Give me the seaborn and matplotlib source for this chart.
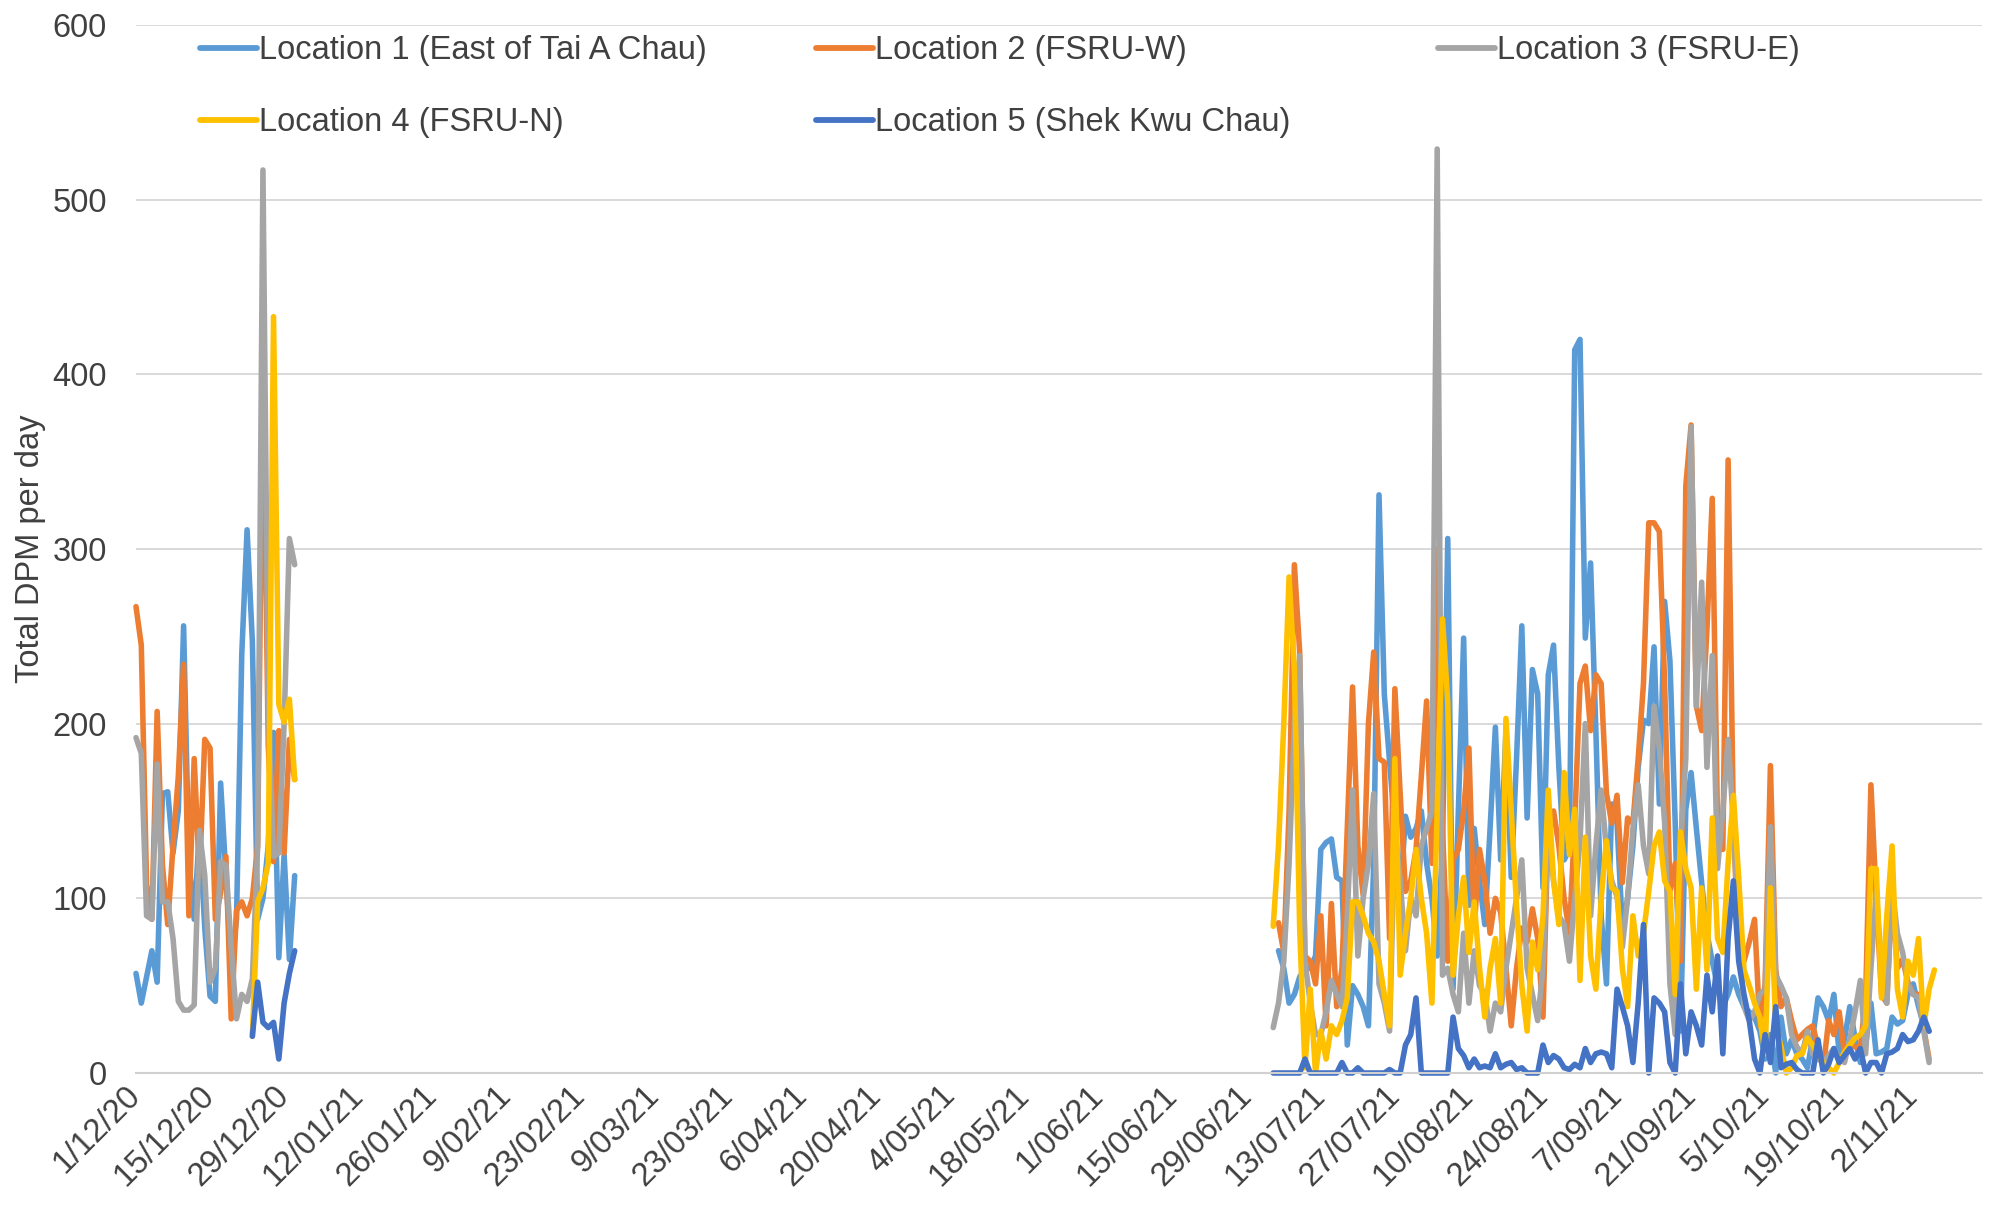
import numpy as np
import pandas as pd
import matplotlib
matplotlib.use("Agg")
import matplotlib.pyplot as plt
import matplotlib.dates as mdates
import seaborn as sns

# ---------------- data ----------------
locations = [
    "Location 1 (East of Tai A Chau)",
    "Location 2 (FSRU-W)",
    "Location 3 (FSRU-E)",
    "Location 4 (FSRU-N)",
    "Location 5 (Shek Kwu Chau)",
]
colors = ["#5B9BD5", "#ED7D31", "#A5A5A5", "#FFC000", "#4472C4"]

seg1_start = "2020-12-01"   # daily values, 1 Dec - 31 Dec 2020
seg2_start = "2021-07-04"   # daily values, 4 Jul - 5 Nov 2021

N = None
loc1_seg1 = [57, 40, 55, 70, 52, 160, 161, 126, 150, 256, 121, 88, 139, 83, 44, 41,
             166, 113, 62, 88, 240, 311, 247, 88, 100, 130, 195, 66, 125, 65, 113]
loc2_seg1 = [267, 245, 108, 88, 207, 119, 85, 130, 170, 234, 90, 180, 113, 191, 186, 88,
             103, 124, 31, 93, 98, 90, 100, 130, 405, 188, 121, 196, 126, 191, 168]
loc3_seg1 = [192, 183, 90, 88, 177, 98, 98, 77, 41, 36, 36, 39, 139, 113, 52, 60,
             121, 119, 72, 31, 45, 41, 54, 130, 517, 210, 124, 126, 200, 306, 291]
loc4_seg1 = [N] * 22 + [21, 98, 106, 120, 433, 211, 201, 214, 168]
loc5_seg1 = [N] * 22 + [21, 52, 29, 26, 29, 8, 40, 57, 70]

loc1_seg2 = [N, 70, 60, 40, 45, 55, 60, 60, 67, 128,
             132, 134, 112, 110, 16, 50, 45, 38, 27, 120,
             331, 217, 178, 140, 100, 147, 135, 140, 150, 120,
             100, 67, 130, 306, 48, 150, 249, 96, 140, 110,
             85, 140, 198, 122, 196, 112, 180, 256, 146, 231,
             217, 106, 228, 245, 175, 122, 128, 414, 420, 249,
             292, 196, 90, 51, 154, 143, 83, 100, 130, 175,
             202, 200, 244, 154, 270, 236, 143, 24, 151, 172,
             140, 109, 80, 64, 50, 38, 45, 55, 45, 38,
             35, 32, 24, 8, 22, 0, 32, 11, 19, 11,
             8, 3, 20, 43, 38, 30, 45, 11, 19, 38,
             20, 6, 16, 40, 11, 12, 14, 32, 28, 30,
             45, 51, 38, 27, 24, N]
loc2_seg2 = [N, 86, 69, 150, 291, 241, 67, 64, 51, 90,
             27, 97, 38, 60, 140, 221, 130, 102, 200, 241,
             180, 178, 77, 220, 160, 104, 110, 128, 170, 213,
             120, 300, 140, 64, 122, 128, 150, 186, 83, 128,
             110, 80, 100, 92, 60, 27, 60, 83, 75, 94,
             77, 32, 143, 150, 130, 100, 80, 143, 223, 233,
             196, 228, 223, 160, 143, 159, 109, 146, 143, 180,
             223, 315, 315, 310, 223, 104, 120, 64, 336, 371,
             210, 196, 254, 329, 143, 128, 351, 143, 69, 64,
             75, 88, 27, 51, 176, 59, 38, 43, 30, 19,
             22, 25, 27, 15, 3, 30, 22, 35, 11, 16,
             15, 14, 43, 165, 100, 45, 40, 105, 60, 65,
             52, 45, 45, 25, 8, N]
loc3_seg2 = [26, 40, 64, 120, 200, 239, 64, 40, 22, 22,
             35, 53, 45, 38, 90, 162, 67, 100, 120, 160,
             51, 40, 24, 140, 110, 70, 100, 90, 130, 140,
             150, 529, 56, 60, 45, 35, 80, 40, 70, 50,
             45, 24, 40, 35, 60, 80, 100, 122, 60, 45,
             30, 60, 140, 110, 90, 85, 64, 100, 133, 200,
             90, 130, 162, 128, 110, 101, 72, 100, 140, 165,
             130, 114, 210, 186, 143, 51, 22, 130, 180, 370,
             210, 281, 175, 239, 117, 150, 191, 143, 80, 38,
             30, 35, 45, 48, 141, 56, 50, 43, 22, 15,
             11, 24, 11, 8, 6, 10, 14, 8, 6, 19,
             35, 53, 11, 60, 104, 60, 40, 106, 80, 69,
             51, 45, 43, 24, 6, N]
loc4_seg2 = [84, 130, 200, 284, 230, 83, 3, 48, 0, 24,
             8, 27, 22, 30, 43, 98, 98, 90, 80, 75,
             64, 45, 27, 180, 56, 80, 100, 128, 100, 80,
             40, 150, 260, 212, 56, 90, 112, 69, 98, 60,
             32, 60, 77, 40, 203, 150, 96, 50, 24, 75,
             59, 90, 162, 110, 85, 172, 125, 151, 53, 135,
             67, 48, 100, 133, 106, 104, 60, 38, 90, 67,
             80, 104, 130, 138, 110, 104, 45, 138, 117, 106,
             48, 106, 59, 146, 77, 69, 120, 159, 112, 59,
             50, 40, 32, 11, 106, 27, 15, 0, 3, 10,
             11, 20, 16, 10, 6, 3, 0, 6, 12, 16,
             20, 22, 27, 117, 117, 43, 90, 130, 48, 32,
             64, 56, 77, 27, 48, 59]
loc5_seg2 = [0, 0, 0, 0, 0, 0, 8, 0, 0, 0,
             0, 0, 0, 6, 0, 0, 3, 0, 0, 0,
             0, 0, 2, 0, 0, 16, 22, 43, 0, 0,
             0, 0, 0, 0, 32, 14, 10, 3, 8, 3,
             4, 3, 11, 3, 5, 6, 2, 3, 0, 0,
             0, 16, 6, 10, 8, 3, 2, 5, 3, 14,
             6, 11, 12, 11, 3, 48, 38, 27, 6, 40,
             85, 0, 43, 40, 35, 6, 0, 51, 11, 35,
             27, 16, 56, 35, 67, 11, 77, 110, 64, 45,
             30, 8, 0, 22, 6, 38, 3, 5, 6, 2,
             0, 0, 0, 19, 0, 5, 14, 6, 10, 14,
             8, 14, 0, 6, 6, 0, 11, 12, 14, 22,
             18, 19, 24, 32, 24, N]

seg1_values = [loc1_seg1, loc2_seg1, loc3_seg1, loc4_seg1, loc5_seg1]
seg2_values = [loc1_seg2, loc2_seg2, loc3_seg2, loc4_seg2, loc5_seg2]

tick_labels = ["1/12/20", "15/12/20", "29/12/20", "12/01/21", "26/01/21", "9/02/21",
               "23/02/21", "9/03/21", "23/03/21", "6/04/21", "20/04/21", "4/05/21",
               "18/05/21", "1/06/21", "15/06/21", "29/06/21", "13/07/21", "27/07/21",
               "10/08/21", "24/08/21", "7/09/21", "21/09/21", "5/10/21", "19/10/21",
               "2/11/21"]
tick_start = "2020-12-01"
tick_step = "14D"
axis_end = "2021-11-15"
y_ticks = [0, 100, 200, 300, 400, 500, 600]

# ---------------- long-form table ----------------
records = []
for name, s1, s2 in zip(locations, seg1_values, seg2_values):
    for seg_id, start, vals in ((1, seg1_start, s1), (2, seg2_start, s2)):
        dates = pd.date_range(start, periods=len(vals), freq="D")
        for dt, v in zip(dates, vals):
            if v is not None:
                records.append((name, seg_id, dt, float(v)))
df = pd.DataFrame(records, columns=["Location", "Segment", "Date", "DPM"])

# ---------------- figure ----------------
sns.set_theme(style="white")
plt.rcParams["font.family"] = ["Liberation Sans", "DejaVu Sans"]
TXT = "#404040"
FS = 23.5

W, H = 1990, 1205
fig = plt.figure(figsize=(W / 100, H / 100), dpi=100)
left, right, top, bottom = 136, 1982, 25, 1073
ax = fig.add_axes([left / W, 1 - bottom / H, (right - left) / W, (bottom - top) / H])

sns.lineplot(data=df, x="Date", y="DPM", hue="Location", hue_order=locations,
             units="Segment", estimator=None, palette=colors, linewidth=4.0,
             ax=ax, legend=True, sort=True)

for ln in ax.lines:
    ln.set_clip_on(False)
    ln.set_solid_joinstyle("round")

handles, labels = ax.get_legend_handles_labels()
if ax.get_legend() is not None:
    ax.get_legend().remove()

# axes styling
ax.set_ylim(0, 600)
ax.set_yticks(y_ticks)
ax.set_yticklabels([str(v) for v in y_ticks])
tick_dates = pd.date_range(tick_start, periods=len(tick_labels), freq=tick_step)
ax.set_xticks(mdates.date2num(tick_dates))
ax.set_xticklabels(tick_labels)
ax.set_xlim(mdates.date2num(pd.Timestamp(tick_start)), mdates.date2num(pd.Timestamp(axis_end)))

ax.grid(axis="y", color="#D9D9D9", linewidth=1.4)
ax.grid(axis="x", visible=False)
ax.set_axisbelow(True)
for s in ("left", "right", "top"):
    ax.spines[s].set_visible(False)
ax.spines["bottom"].set_color("#D0D0D0")
ax.spines["bottom"].set_linewidth(1.5)

ax.tick_params(axis="y", length=0, pad=21, labelsize=FS, labelcolor=TXT)
ax.tick_params(axis="x", length=8, width=1.3, color="#D0D0D0", direction="out",
               pad=5, labelsize=FS, labelcolor=TXT)
for lab in ax.get_xticklabels():
    lab.set_rotation(45)
    lab.set_ha("right")
    lab.set_va("center")
    lab.set_rotation_mode("anchor")

ax.set_xlabel("")
ax.set_ylabel("")
fig.text(31 / W, 1 - 549 / H, "Total DPM per day", rotation=90, ha="center",
         va="center", fontsize=FS, color=TXT)

# legend: 3-column grid as in reference
leg_pos = [(200, 51), (816, 51), (1438, 51), (200, 123), (816, 123)]
for h, lab, (px, py) in zip(handles, labels, leg_pos):
    h.set_linewidth(4.2)
    fig.legend(handles=[h], labels=[lab], loc="center left",
               bbox_to_anchor=(px / W, 1 - py / H), bbox_transform=fig.transFigure,
               frameon=False, fontsize=FS, handlelength=1.75, handletextpad=0.05,
               borderpad=0, borderaxespad=0, labelcolor=TXT)

fig.savefig("out.png", dpi=100)
